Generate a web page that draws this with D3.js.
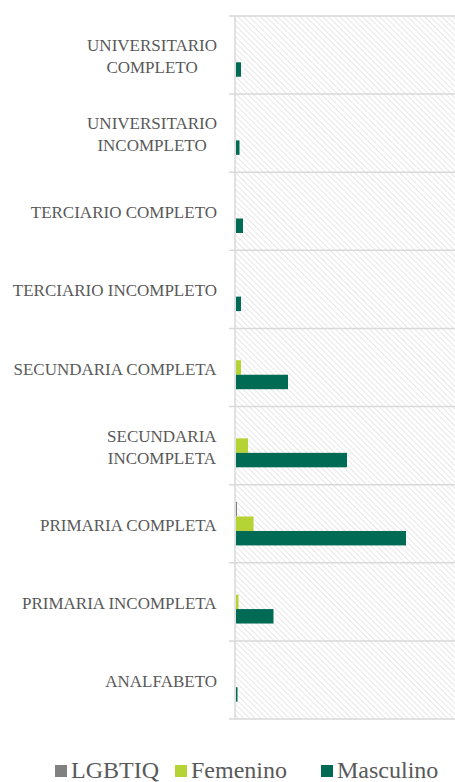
<!DOCTYPE html>
<html lang="es">
<head>
  <meta charset="UTF-8" />
  <script src="https://d3js.org/d3.v7.min.js"></script>
  <style>
    body { margin: 0; background: #fff; }
    svg { display: block; }
  </style>
</head>
<body onload="init()">
  <div id="scene"></div>

  <script>
    // categories top to bottom, labels split where the original wraps
    const categories = [
      "UNIVERSITARIO COMPLETO", "UNIVERSITARIO INCOMPLETO", "TERCIARIO COMPLETO",
      "TERCIARIO INCOMPLETO", "SECUNDARIA COMPLETA", "SECUNDARIA INCOMPLETA",
      "PRIMARIA COMPLETA", "PRIMARIA INCOMPLETA", "ANALFABETO"
    ];
    const labelLines = [
      ["UNIVERSITARIO", "COMPLETO"], ["UNIVERSITARIO", "INCOMPLETO"], ["TERCIARIO COMPLETO"],
      ["TERCIARIO INCOMPLETO"], ["SECUNDARIA COMPLETA"], ["SECUNDARIA", "INCOMPLETA"],
      ["PRIMARIA COMPLETA"], ["PRIMARIA INCOMPLETA"], ["ANALFABETO"]
    ];
    const seriesNames = ["LGBTIQ", "Femenino", "Masculino"];
    const lgbtiq    = [0, 0, 0, 0, 0, 0, 2, 0, 0];
    const femenino  = [0, 0, 0, 0, 10, 24, 35, 5, 0];
    const masculino = [10, 7, 14, 10, 104, 222, 340, 75, 3];
    const colors = ["#808080", "#b5d334", "#006b54"];

    const FONT = "Liberation Serif";

    function init() {
      const W = 455, H = 782;
      const left = 235, right = 456, top = 16, bottom = 719;
      const svg = d3.select("#scene").append("svg").attr("width", W).attr("height", H);

      const table = categories.map((c, i) => ({
        cat: c, vals: [lgbtiq[i], femenino[i], masculino[i]]
      }));

      const y = d3.scaleBand().domain(categories).range([top, bottom]);
      const ys = d3.scaleBand().domain(seriesNames).range([0, y.bandwidth()]).paddingOuter(1.2);
      const x = d3.scaleLinear().domain([0, 440]).range([left + 1, right]);

      // hatched plot background (downward diagonal)
      const pat = svg.append("defs").append("pattern")
        .attr("id", "hatch").attr("patternUnits", "userSpaceOnUse")
        .attr("width", 4).attr("height", 4)
        .attr("patternTransform", "rotate(-45)");
      pat.append("line").attr("x1", 0).attr("y1", 0).attr("x2", 0).attr("y2", 4)
        .attr("stroke", "#dadada").attr("stroke-width", 1.3);
      svg.append("rect").attr("x", left).attr("y", top)
        .attr("width", right - left).attr("height", bottom - top)
        .attr("fill", "url(#hatch)");

      // category separators
      const edges = categories.map(c => y(c)).concat([bottom]);
      svg.selectAll("line.grid").data(edges).enter().append("line")
        .attr("class", "grid")
        .attr("x1", left - 6).attr("x2", right)
        .attr("y1", d => d).attr("y2", d => d)
        .attr("stroke", "#d9d9d9").attr("stroke-width", 1.5);
      svg.append("line").attr("x1", left).attr("x2", left)
        .attr("y1", top).attr("y2", bottom)
        .attr("stroke", "#d9d9d9").attr("stroke-width", 1.5);

      // bars
      const groups = svg.selectAll("g.cat").data(table).enter().append("g")
        .attr("class", "cat")
        .attr("transform", d => `translate(0,${y(d.cat)})`);
      groups.selectAll("rect").data(d => d.vals.map((v, k) => ({ v, k }))).enter()
        .append("rect")
        .attr("x", x(0))
        .attr("y", d => ys(seriesNames[d.k]))
        .attr("width", d => x(d.v) - x(0))
        .attr("height", ys.bandwidth())
        .attr("fill", d => colors[d.k]);

      // category labels: right aligned, wrapped lines centred on each other
      const lab = svg.append("g").attr("font-family", FONT)
        .attr("font-size", 17).attr("fill", "#595959");
      categories.forEach((c, i) => {
        const lines = labelLines[i];
        const t = lab.append("text").attr("text-anchor", "middle");
        const lh = 22;
        const cy = y(c) + y.bandwidth() / 2 + 1;
        lines.forEach((s, j) => {
          t.append("tspan").attr("x", 0)
            .attr("y", cy - (lines.length - 1) * lh / 2 + j * lh + 6)
            .text(s);
        });
        const w = t.node().getBBox().width;
        t.selectAll("tspan").attr("x", 217 - w / 2);
      });

      // legend
      const legX = [55, 175, 321];
      const leg = svg.append("g").attr("font-family", FONT)
        .attr("font-size", 24).attr("fill", "#595959");
      seriesNames.forEach((s, k) => {
        leg.append("rect").attr("x", legX[k]).attr("y", 765)
          .attr("width", 12).attr("height", 12).attr("fill", colors[k]);
        leg.append("text").attr("x", legX[k] + 16).attr("y", 778).text(s);
      });
    }
  </script>
</body>
</html>
